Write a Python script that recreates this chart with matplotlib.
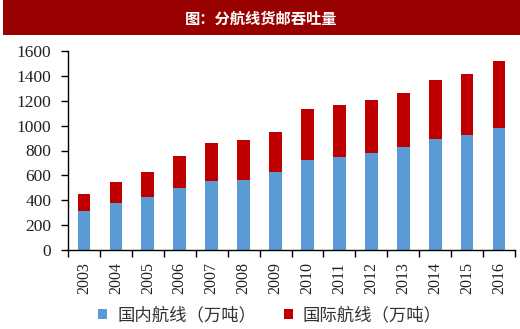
import matplotlib
matplotlib.use("Agg")
import matplotlib.pyplot as plt
from matplotlib.patches import Rectangle, Patch
import numpy as np

years = ["2003", "2004", "2005", "2006", "2007", "2008", "2009",
         "2010", "2011", "2012", "2013", "2014", "2015", "2016"]
domestic = [313, 375, 424, 501, 555, 560, 624, 721, 748, 782, 830, 890, 922, 978]
total = [450, 547, 630, 753, 857, 887, 948, 1136, 1163, 1203, 1262, 1364, 1412, 1517]
international = [t - d for t, d in zip(total, domestic)]
yticks = [0, 200, 400, 600, 800, 1000, 1200, 1400, 1600]
title = "图：分航线货邮吞吐量"
labels = ["国内航线（万吨）", "国际航线（万吨）"]

BLUE = "#5B9BD5"
RED = "#C00000"
BANNER = "#990000"

plt.rcParams['font.family'] = ['Noto Sans CJK SC', 'DejaVu Sans']

fig = plt.figure(figsize=(5.2, 3.29), dpi=100)
fig.patch.set_facecolor("white")
fig.patches.append(Rectangle((3/520, 1 - 35/329), 1 - 3/520, 35/329,
                             transform=fig.transFigure, facecolor=BANNER,
                             edgecolor="none", zorder=0))
fig.text(261/520, 1 - 19/329, title, color="white", fontsize=11,
         fontweight="bold", ha="center", va="center")

ax = fig.add_axes([68/520, 1 - 250/329, (515 - 68)/520, (250 - 51)/329])
x = np.arange(len(years))
ax.bar(x, domestic, width=0.4, color=BLUE, edgecolor="none", zorder=2)
ax.bar(x, international, bottom=domestic, width=0.4, color=RED,
       edgecolor="none", zorder=2)

ax.set_xlim(-0.5, len(years) - 0.5)
ax.set_ylim(0, 1600)
ax.set_yticks(yticks)
ax.set_yticklabels([str(v) for v in yticks], fontfamily="Liberation Serif",
                   fontsize=12.5, color="#222222")
ax.set_xticks(x)
ax.set_xticklabels(years, rotation=90, fontfamily="Liberation Serif",
                   fontsize=11.5, color="#222222")
ax.set_xticks(np.arange(-0.5, len(years), 1.0), minor=True)
ax.tick_params(axis="x", which="major", length=0, pad=9)
ax.tick_params(axis="x", which="minor", length=5, width=1, direction="out")
ax.tick_params(axis="y", length=5, width=1, direction="out", pad=7)
for s in ["top", "right"]:
    ax.spines[s].set_visible(False)
for s in ["left", "bottom"]:
    ax.spines[s].set_color("black")
    ax.spines[s].set_linewidth(1)

handles = [Patch(facecolor=BLUE, edgecolor="none"),
           Patch(facecolor=RED, edgecolor="none")]
fig.legend(handles, labels, loc="center", bbox_to_anchor=(270/520, 1 - 315/329),
           ncol=2, frameon=False, fontsize=12.5, handlelength=0.5,
           handleheight=0.5, handletextpad=0.6, columnspacing=1.6,
           labelcolor="#333333")

fig.savefig("out.png", dpi=100)
